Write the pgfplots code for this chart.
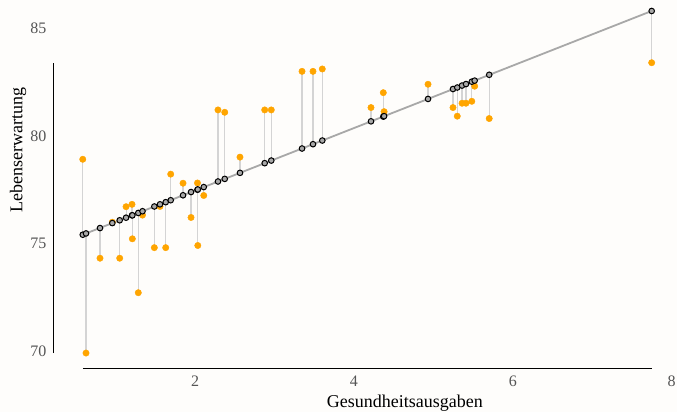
\documentclass[border=0pt]{standalone}
\usepackage{fontspec}
\setmainfont{Liberation Serif}
\usepackage{pgfplots}
\usepackage{pgfplotstable}
\pgfplotsset{compat=1.18}
\definecolor{PageBg}{HTML}{FEFDFB}
\definecolor{FitGray}{HTML}{A8A8A8}
\definecolor{ResGray}{HTML}{D4D4D4}
\definecolor{ObsOrange}{HTML}{FFA500}
\definecolor{TickText}{HTML}{555555}

% x = spending, fit = fitted value, obs = observed life expectancy
\pgfplotstableread{
x     fit    obs
0.587 75.42  78.92
0.628 75.48  69.93
0.804 75.73  74.33
0.959 75.96  76.00
1.052 76.09  74.33
1.132 76.21  76.72
1.207 76.32  76.83
1.211 76.32  75.23
1.286 76.43  72.73
1.339 76.51  76.33
1.488 76.73  74.82
1.559 76.83  76.73
1.631 76.93  74.82
1.694 77.02  78.23
1.849 77.25  77.81
1.950 77.40  76.22
2.031 77.51  77.82
2.035 77.52  74.92
2.110 77.63  77.24
2.289 77.89  81.21
2.374 78.01  81.10
2.566 78.29  79.02
2.877 78.74  81.21
2.960 78.86  81.21
3.347 79.42  83.00
3.485 79.62  83.00
3.602 79.79  83.11
4.215 80.68  81.32
4.370 80.90  82.01
4.380 80.92  81.13
4.933 81.72  82.40
5.247 82.18  81.32
5.301 82.25  80.92
5.361 82.34  81.52
5.411 82.41  81.52
5.484 82.52  81.61
5.520 82.57  82.31
5.703 82.84  80.81
7.748 85.80  83.40
}\healthdata

\begin{document}
\begin{tikzpicture}
\path[use as bounding box, fill=PageBg] (-54pt,-43pt) rectangle (623pt,369pt);
\begin{axis}[
  scale only axis,
  width=617.7pt, height=369pt,
  xmin=0.225, xmax=8.0,
  ymin=69.19, ymax=86.31,
  axis line style={draw=none},
  major tick length=0pt,
  xtick={2,4,6,8}, ytick={70,75,80,85},
  /pgf/number format/assume math mode=true,
  tick label style={font=\fontsize{16}{16}\selectfont, text=TickText},
  xticklabel style={yshift=-3.5pt},
  yticklabel style={xshift=-4pt},
  xlabel={Gesundheitsausgaben},
  ylabel={Lebenserwartung},
  label style={font=\fontsize{18}{18}\selectfont, text=black},
  xlabel style={at={(axis description cs:0.568,-0.092)}, anchor=center},
  ylabel style={at={(axis description cs:-0.058,0.593)}, anchor=center},
  clip=false,
  unbounded coords=jump,
]
% residuals
\addplot[draw=ResGray, line width=1.1pt, no marks] coordinates {
(0.587,75.42) (0.587,78.92) (0.587,nan)
(0.628,75.48) (0.628,69.93) (0.628,nan)
(0.804,75.73) (0.804,74.33) (0.804,nan)
(0.959,75.96) (0.959,76.00) (0.959,nan)
(1.052,76.09) (1.052,74.33) (1.052,nan)
(1.132,76.21) (1.132,76.72) (1.132,nan)
(1.207,76.32) (1.207,76.83) (1.207,nan)
(1.211,76.32) (1.211,75.23) (1.211,nan)
(1.286,76.43) (1.286,72.73) (1.286,nan)
(1.339,76.51) (1.339,76.33) (1.339,nan)
(1.488,76.73) (1.488,74.82) (1.488,nan)
(1.559,76.83) (1.559,76.73) (1.559,nan)
(1.631,76.93) (1.631,74.82) (1.631,nan)
(1.694,77.02) (1.694,78.23) (1.694,nan)
(1.849,77.25) (1.849,77.81) (1.849,nan)
(1.950,77.40) (1.950,76.22) (1.950,nan)
(2.031,77.51) (2.031,77.82) (2.031,nan)
(2.035,77.52) (2.035,74.92) (2.035,nan)
(2.110,77.63) (2.110,77.24) (2.110,nan)
(2.289,77.89) (2.289,81.21) (2.289,nan)
(2.374,78.01) (2.374,81.10) (2.374,nan)
(2.566,78.29) (2.566,79.02) (2.566,nan)
(2.877,78.74) (2.877,81.21) (2.877,nan)
(2.960,78.86) (2.960,81.21) (2.960,nan)
(3.347,79.42) (3.347,83.00) (3.347,nan)
(3.485,79.62) (3.485,83.00) (3.485,nan)
(3.602,79.79) (3.602,83.11) (3.602,nan)
(4.215,80.68) (4.215,81.32) (4.215,nan)
(4.370,80.90) (4.370,82.01) (4.370,nan)
(4.380,80.92) (4.380,81.13) (4.380,nan)
(4.933,81.72) (4.933,82.40) (4.933,nan)
(5.247,82.18) (5.247,81.32) (5.247,nan)
(5.301,82.25) (5.301,80.92) (5.301,nan)
(5.361,82.34) (5.361,81.52) (5.361,nan)
(5.411,82.41) (5.411,81.52) (5.411,nan)
(5.484,82.52) (5.484,81.61) (5.484,nan)
(5.520,82.57) (5.520,82.31) (5.520,nan)
(5.703,82.84) (5.703,80.81) (5.703,nan)
(7.748,85.80) (7.748,83.40)
};
% regression line
\addplot[draw=FitGray, line width=1.8pt, no marks] coordinates {(0.587,75.42) (7.748,85.80)};
% observed
\addplot[only marks, mark=*, mark size=3.2pt, draw=ObsOrange, fill=ObsOrange]
  table[x=x, y=obs] {\healthdata};
% fitted
\addplot[only marks, mark=*, mark size=2.8pt, mark options={draw=black, fill=FitGray, line width=1pt}]
  table[x=x, y=fit] {\healthdata};
% range frame
\draw[black, line width=1pt] (axis cs:0.587,69.19) -- (axis cs:7.748,69.19);
\draw[black, line width=1pt] (axis cs:0.225,69.93) -- (axis cs:0.225,83.40);
\end{axis}
\end{tikzpicture}
\end{document}
